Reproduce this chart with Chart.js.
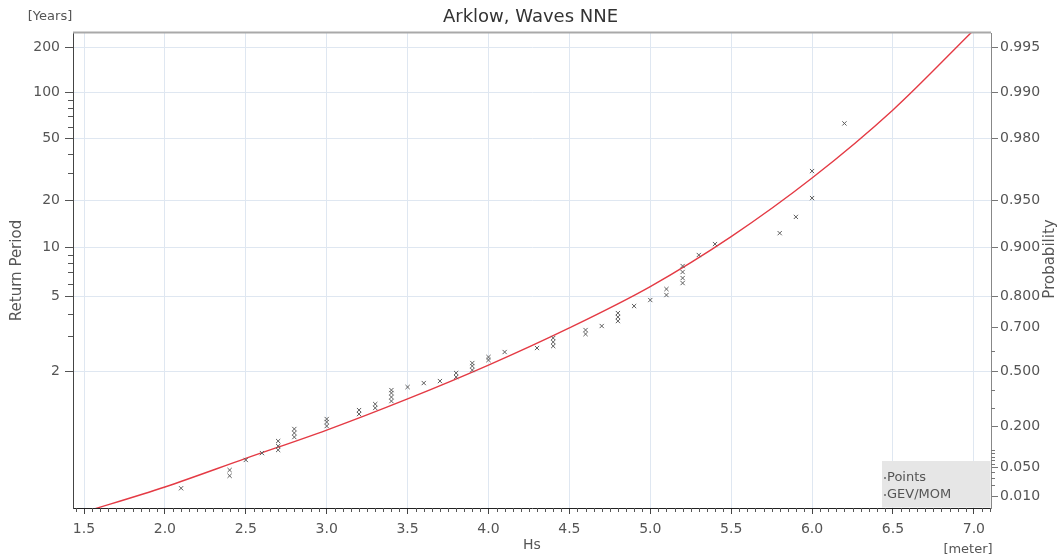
<!DOCTYPE html>
<html>
<head>
<meta charset="utf-8">
<script src="https://cdn.jsdelivr.net/npm/chart.js@4.4.0/dist/chart.umd.min.js"></script>
<style>
  html, body { margin: 0; padding: 0; background: #fff; }
  #wrap { width: 1061px; height: 557px; }
</style>
</head>
<body>
<div id="wrap"><canvas id="chart" width="1061" height="557"></canvas></div>
<script>
// observed maxima (Hs in m) and their plotted return periods (years)
const pointHs = [2.1, 2.4, 2.4, 2.5, 2.6, 2.7, 2.7, 2.7, 2.8, 2.8, 2.8, 3.0, 3.0, 3.0, 3.2, 3.2, 3.3, 3.3,
  3.4, 3.4, 3.4, 3.4, 3.5, 3.6, 3.7, 3.8, 3.8, 3.9, 3.9, 3.9, 4.0, 4.0, 4.1, 4.3, 4.4, 4.4, 4.4,
  4.6, 4.6, 4.7, 4.8, 4.8, 4.8, 4.9, 5.0, 5.1, 5.1, 5.2, 5.2, 5.2, 5.2, 5.3, 5.4, 5.8, 5.9, 6.0, 6.0, 6.2];
const pointPeriod = [1.017, 1.035, 1.047, 1.075, 1.100, 1.113, 1.131, 1.157, 1.180, 1.206, 1.234, 1.256, 1.289, 1.315,
  1.362, 1.403, 1.426, 1.471, 1.508, 1.561, 1.618, 1.662, 1.710, 1.777, 1.812, 1.887, 1.967, 2.029, 2.118, 2.189,
  2.263, 2.341, 2.480, 2.599, 2.660, 2.792, 2.931, 3.077, 3.236, 3.405, 3.628, 3.823, 4.024, 4.417, 4.787,
  5.123, 5.559, 6.039, 6.473, 7.047, 7.669, 8.97, 10.5, 12.3, 15.6, 20.6, 30.8, 63];

// fitted GEV/MOM curve
const curveHs = [1.5, 2.0, 2.5, 3.0, 3.5, 4.0, 4.5, 5.0, 5.5, 6.0, 6.5, 7.0];
const curvePeriod = [1.0028, 1.0184, 1.0803, 1.2261, 1.5364, 2.141, 3.326, 5.754, 11.70, 27.76, 77.2, 259];

// axis ticks
const xTicks = [1.5, 2.0, 2.5, 3.0, 3.5, 4.0, 4.5, 5.0, 5.5, 6.0, 6.5, 7.0];
const periodTicks = [2, 5, 10, 20, 50, 100, 200];
const periodMinor = [3, 4, 6, 7, 8, 9, 30, 40, 60, 70, 80, 90];
const probTicks = [0.01, 0.05, 0.2, 0.5, 0.7, 0.8, 0.9, 0.95, 0.98, 0.99, 0.995];
const probMinor = [0.02, 0.03, 0.04, 0.06, 0.07, 0.08, 0.09, 0.1, 0.3, 0.4, 0.6];

// gumbel reduced variate
const fromPeriod = T => -Math.log(-Math.log(1 - 1 / T));
const fromProb = p => -Math.log(-Math.log(p));

const X_MIN = 1.432, X_MAX = 7.106;
const Y_MIN = -1.709, Y_MAX = 5.509;
const FONT = "'DejaVu Sans', sans-serif";

Chart.defaults.font.family = FONT;
Chart.defaults.color = '#555';

const extras = {
    id: 'extras',
    afterDraw(chart) {
        const { ctx, chartArea: area, scales } = chart;
        ctx.save();

        // grey top frame
        ctx.strokeStyle = '#a9a9a9';
        ctx.lineWidth = 2;
        ctx.beginPath();
        ctx.moveTo(area.left, area.top - 0.5);
        ctx.lineTo(area.right, area.top - 0.5);
        ctx.stroke();

        // minor ticks
        ctx.lineWidth = 1;
        ctx.strokeStyle = '#555';
        ctx.beginPath();
        for (let i = 29; i <= 142; i++) {
            if (i % 10 === 0) continue;
            const px = Math.round(scales.x.getPixelForValue(i / 20)) + 0.5;
            ctx.moveTo(px, area.bottom);
            ctx.lineTo(px, area.bottom + 4);
        }
        periodMinor.forEach(t => {
            const py = Math.round(scales.y.getPixelForValue(fromPeriod(t))) + 0.5;
            ctx.moveTo(area.left - 5, py);
            ctx.lineTo(area.left, py);
        });
        ctx.stroke();
        ctx.strokeStyle = '#777';
        ctx.beginPath();
        probMinor.forEach(p => {
            const py = Math.round(scales.y2.getPixelForValue(fromProb(p))) + 0.5;
            ctx.moveTo(area.right, py);
            ctx.lineTo(area.right + 4, py);
        });
        ctx.stroke();

        // legend box
        const lx = 882, ly = 461;
        ctx.fillStyle = '#e6e6e6';
        ctx.fillRect(lx, ly, area.right - lx - 0.5, area.bottom - ly - 0.5);
        ctx.font = '13px ' + FONT;
        ctx.textAlign = 'left';
        ctx.textBaseline = 'middle';
        chart.data.datasets.forEach((ds, i) => {
            const y = 478 + i * 17;
            ctx.fillStyle = '#888';
            ctx.fillRect(lx + 2, y - 1, 2, 2);
            ctx.fillStyle = '#555';
            ctx.fillText(ds.label, lx + 5, y);
        });

        // unit labels and right axis title
        ctx.fillStyle = '#555';
        ctx.textAlign = 'center';
        ctx.fillText('[Years]', 50, 17);
        ctx.fillText('[meter]', 968, 550);
        ctx.translate(1050, 259);
        ctx.rotate(-Math.PI / 2);
        ctx.font = '15px ' + FONT;
        ctx.fillText('Probability', 0, 0);
        ctx.restore();
    }
};

new Chart(document.getElementById('chart'), {
    type: 'scatter',
    data: {
        datasets: [
            {
                label: 'Points',
                data: pointHs.map((x, i) => ({ x, y: fromPeriod(pointPeriod[i]) })),
                pointStyle: 'crossRot',
                pointRadius: 3,
                borderColor: '#5e5e5e',
                backgroundColor: '#5e5e5e',
                borderWidth: 1
            },
            {
                label: 'GEV/MOM',
                type: 'line',
                data: curveHs.map((x, i) => ({ x, y: fromPeriod(curvePeriod[i]) })),
                borderColor: 'rgb(228, 58, 68)',
                borderWidth: 1.4,
                pointRadius: 0,
                fill: false,
                cubicInterpolationMode: 'monotone'
            }
        ]
    },
    options: {
        responsive: false,
        animation: false,
        layout: { padding: 0 },
        plugins: {
            legend: { display: false },
            tooltip: { enabled: false },
            title: {
                display: true,
                text: 'Arklow, Waves NNE',
                color: '#333',
                font: { size: 18, weight: 'normal' },
                padding: { top: 7, bottom: 4.4 }
            }
        },
        scales: {
            x: {
                type: 'linear',
                position: 'bottom',
                min: X_MIN,
                max: X_MAX,
                afterBuildTicks: s => { s.ticks = xTicks.map(v => ({ value: v })); },
                afterFit: s => { s.height = 49; },
                ticks: {
                    autoSkip: false,
                    maxRotation: 0,
                    padding: 7,
                    font: { size: 14 },
                    callback: v => v.toFixed(1)
                },
                grid: { color: '#dfe7f1', tickColor: '#444', tickLength: 6 },
                border: { color: '#222', width: 1 },
                title: { display: true, text: 'Hs', font: { size: 14 }, padding: { top: 0, bottom: 3 } }
            },
            y: {
                type: 'linear',
                position: 'left',
                min: Y_MIN,
                max: Y_MAX,
                afterBuildTicks: s => { s.ticks = periodTicks.map(t => ({ value: fromPeriod(t) })); },
                afterFit: s => { s.width = 73; },
                ticks: {
                    autoSkip: false,
                    padding: 5,
                    font: { size: 14 },
                    callback: (v, i) => String(periodTicks[i])
                },
                grid: { color: '#dfe7f1', tickColor: '#555', tickLength: 8 },
                border: { color: '#444', width: 1 },
                title: { display: true, text: 'Return Period', font: { size: 15 }, padding: { top: 8, bottom: 0 } }
            },
            y2: {
                type: 'linear',
                position: 'right',
                min: Y_MIN,
                max: Y_MAX,
                afterBuildTicks: s => { s.ticks = probTicks.map(p => ({ value: fromProb(p) })); },
                afterFit: s => { s.width = 70; },
                ticks: {
                    autoSkip: false,
                    padding: 2,
                    font: { size: 14 },
                    callback: (v, i) => probTicks[i].toFixed(3)
                },
                grid: { drawOnChartArea: false, tickColor: '#777', tickLength: 7 },
                border: { color: '#888', width: 1 }
            }
        }
    },
    plugins: [extras]
});
</script>
</body>
</html>
